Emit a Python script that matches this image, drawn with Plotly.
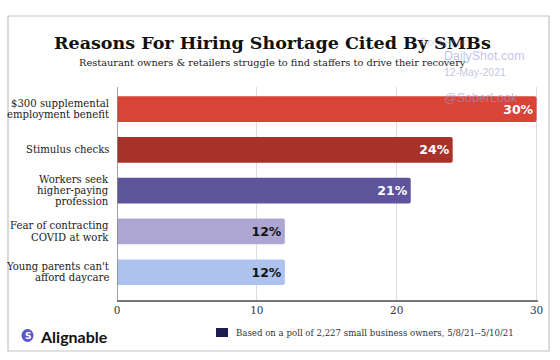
import plotly.graph_objects as go

categories = [
    "$300 supplemental<br>employment benefit",
    "Stimulus checks",
    "Workers seek<br>higher-paying<br>profession",
    "Fear of contracting<br>COVID at work",
    "Young parents can't<br>afford daycare",
]
values = [30, 24, 21, 12, 12]
bar_colors = ["#d94436", "#a8322a", "#5e549c", "#ada6d3", "#adc3ed"]
label_colors = ["white", "white", "white", "#111111", "#111111"]
x_ticks = [0, 10, 20, 30]

title = "Reasons For Hiring Shortage Cited By SMBs"
subtitle = "Restaurant owners & retailers struggle to find staffers to drive their recovery"
note = "Based on a poll of 2,227 small business owners, 5/8/21--5/10/21"

W, H = 560, 360
L, R, T, B = 117, 22, 87, 60

fig = go.Figure()
fig.add_trace(go.Bar(
    y=list(range(len(categories))),
    x=values,
    orientation="h",
    width=0.63,
    marker=dict(color=bar_colors, cornerradius=2, line=dict(width=0)),
    text=[f"{v}%" for v in values],
    textposition="inside",
    insidetextanchor="end",
    textangle=0,
    textfont=dict(family="DejaVu Sans", size=12.5, color=label_colors, weight="bold"),
    hoverinfo="skip",
    showlegend=False,
))

annotations = []
# category labels, one line per annotation for tight line spacing
line_h = 11.3
for i, cat in enumerate(categories):
    lines = cat.split("<br>")
    n = len(lines)
    for j, ln in enumerate(lines):
        annotations.append(dict(
            xref="paper", yref="y", x=0, y=i, xanchor="right", yanchor="middle",
            xshift=-6, yshift=((n - 1) / 2 - j) * line_h,
            text=ln, showarrow=False,
            font=dict(family="DejaVu Serif", size=10.1, color="#1a1a1a"),
        ))

pw = W - L - R
ph = H - T - B
def px(xp):
    return (xp - L) / pw
def py(yp):
    return (H - B - yp) / ph

annotations += [
    dict(xref="paper", yref="paper", x=px(272), y=py(43), xanchor="center", yanchor="middle",
         text="<b>" + title + "</b>", showarrow=False,
         font=dict(family="DejaVu Serif", size=17.5, color="#111111")),
    dict(xref="paper", yref="paper", x=px(272), y=py(63), xanchor="center", yanchor="middle",
         text=subtitle, showarrow=False,
         font=dict(family="DejaVu Serif", size=9.8, color="#222222")),
    dict(xref="paper", yref="paper", x=px(418), y=py(42), xanchor="left", yanchor="middle",
         text="Posted on", showarrow=False,
         font=dict(family="Liberation Sans", size=11, color="rgba(150,155,205,0.35)")),
    dict(xref="paper", yref="paper", x=px(442), y=py(56), xanchor="left", yanchor="middle",
         text="DailyShot.com", showarrow=False,
         font=dict(family="Liberation Sans", size=12.5, color="rgba(150,155,210,0.6)")),
    dict(xref="paper", yref="paper", x=px(442), y=py(72), xanchor="left", yanchor="middle",
         text="12-May-2021", showarrow=False,
         font=dict(family="Liberation Sans", size=10.5, color="rgba(150,155,210,0.6)")),
    dict(xref="paper", yref="paper", x=px(442), y=py(98), xanchor="left", yanchor="middle",
         text="@SoberLook", showarrow=False,
         font=dict(family="Liberation Sans", size=12.5, color="rgba(150,155,210,0.6)")),
    dict(xref="paper", yref="paper", x=px(234), y=py(333), xanchor="left", yanchor="middle",
         text=note, showarrow=False,
         font=dict(family="DejaVu Serif", size=8.6, color="#333333")),
    dict(xref="paper", yref="paper", x=px(38), y=py(336), xanchor="left", yanchor="middle",
         text="<b>Alignable</b>", showarrow=False,
         font=dict(family="Lato", size=16, color="#111111")),
    dict(xref="paper", yref="paper", x=px(27.5), y=py(335.5), xanchor="center", yanchor="middle",
         text="<b>S</b>", showarrow=False,
         font=dict(family="DejaVu Sans", size=9, color="white")),
]

shapes = [
    dict(type="rect", xref="paper", yref="paper", x0=px(8), x1=px(549), y0=py(351), y1=py(16),
         line=dict(color="#c4c4c4", width=1.2), fillcolor="rgba(0,0,0,0)", layer="below"),
    dict(type="rect", xref="paper", yref="paper", x0=px(216), x1=px(228), y0=py(337), y1=py(328),
         line=dict(width=0), fillcolor="#1f1c4e"),
    dict(type="circle", xref="paper", yref="paper", x0=px(21.5), x1=px(33.5), y0=py(342), y1=py(329),
         line=dict(width=0), fillcolor="#5b57c9"),
]

fig.update_layout(
    width=W, height=H,
    margin=dict(l=L, r=R, t=T, b=B),
    paper_bgcolor="white", plot_bgcolor="white",
    annotations=annotations,
    shapes=shapes,
    xaxis=dict(
        range=[0, 30.1], tickvals=x_ticks, ticktext=[str(t) for t in x_ticks],
        showgrid=True, gridcolor="#dddddd", gridwidth=1,
        zeroline=False, showline=True, linecolor="#777777", linewidth=1.5,
        ticks="", ticklen=0,
        tickfont=dict(family="DejaVu Serif", size=10.5, color="#333333"),
        fixedrange=True,
    ),
    yaxis=dict(
        range=[4.68, -0.54], showticklabels=False, showgrid=False,
        zeroline=False, showline=False, ticks="", fixedrange=True,
    ),
    font=dict(family="DejaVu Serif"),
)
# left axis line
fig.add_shape(type="line", xref="x", yref="paper", x0=0, x1=0, y0=0, y1=1,
              line=dict(color="#888888", width=1.6))

fig.write_html(
    "out.html",
    config={"displayModeBar": False},
    post_script="document.body.style.margin='0';document.body.style.overflow='hidden';",
)
